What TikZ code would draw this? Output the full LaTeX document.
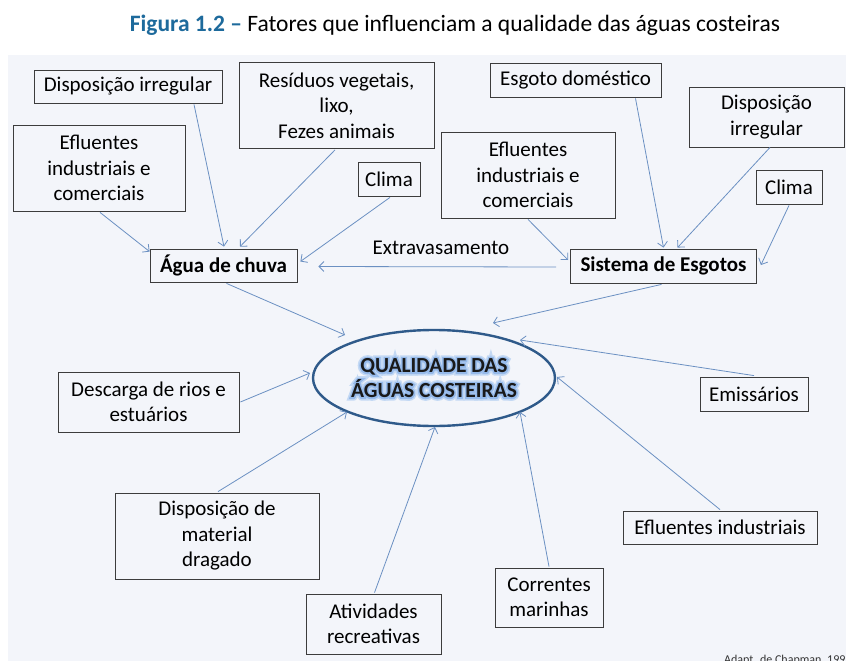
\documentclass[tikz,border=0pt]{standalone}
\usepackage{fontspec}
\setmainfont{Carlito}
\newfontfamily\glowwide{Carlito Bold}[FakeBold=30]
\newfontfamily\glownarrow{Carlito Bold}[FakeBold=15]
\usetikzlibrary{arrows.meta,calc,shapes.geometric}
\definecolor{bgpanel}{HTML}{F3F5FA}
\definecolor{arrowc}{HTML}{6B90C2}
\definecolor{boxline}{HTML}{3C3C3C}
\definecolor{ellc}{HTML}{2F5A8A}
\definecolor{titleblue}{HTML}{1D6A9C}
\definecolor{glowA}{HTML}{C4D9F4}
\definecolor{glowB}{HTML}{96BAEA}
\tikzset{
  x=1pt,y=-1pt,
  fbox/.style={draw=boxline,line width=0.8pt,fill=bgpanel,inner sep=0pt,align=center,
    font=\fontsize{21}{25.5}\selectfont,text=black},
  bbox/.style={fbox,font=\fontsize{21}{25.5}\selectfont\bfseries},
  arr/.style={draw=arrowc,line width=0.8pt,-{Straight Barb[length=5pt,width=10pt]}},
  qtext/.style={align=center,inner sep=0pt,font=\fontsize{21.5}{25}\selectfont},
}
\begin{document}
\begin{tikzpicture}
\useasboundingbox (0,0) rectangle (846,661);
\fill[white] (0,0) rectangle (846,661);
\fill[bgpanel] (8,55) rectangle (846,661);
% title
\node[anchor=center,font=\fontsize{23.5}{26}\selectfont] (title) at (455,25)
  {\textcolor{titleblue}{\bfseries Figura 1.2 –} Fatores que influenciam a qualidade das águas costeiras};
% top-left group
\node[fbox,minimum width=188,minimum height=33] (dispL) at (128,86.5) {Disposição irregular};
\node[fbox,minimum width=195,minimum height=86] (resid) at (336.5,105.5) {Resíduos vegetais,\\lixo,\\Fezes animais};
\node[fbox,minimum width=172,minimum height=86] (effL) at (99,168) {Efluentes\\industriais e\\comerciais};
\node[fbox,minimum width=62,minimum height=34] (climaL) at (389,179) {Clima};
\node[bbox,minimum width=147,minimum height=33] (agua) at (223.5,265.5) {Água de chuva};
% top-right group
\node[fbox,minimum width=171,minimum height=34] (esgoto) at (575.5,80) {Esgoto doméstico};
\node[fbox,minimum width=155,minimum height=60] (dispR) at (766.5,117) {Disposição\\irregular};
\node[fbox,minimum width=174,minimum height=86] (effR) at (528,175) {Efluentes\\industriais e\\comerciais};
\node[fbox,minimum width=66,minimum height=34] (climaR) at (789,187) {Clima};
\node[bbox,minimum width=186,minimum height=34] (sist) at (663.5,266) {Sistema de Esgotos};
\node[font=\fontsize{21}{24}\selectfont,inner sep=0pt] (extra) at (441,248) {Extravasamento};
% center ellipse
\node[ellipse,draw=ellc,line width=2.4pt,fill=bgpanel,minimum width=242,minimum height=96,inner sep=0pt] (qual) at (434,378) {};
\node[qtext,text=glowA] (glowouter) at (qual.center) {\glowwide QUALIDADE DAS\\\glowwide ÁGUAS COSTEIRAS};
\node[qtext,text=glowB] (glowinner) at (qual.center) {\glownarrow QUALIDADE DAS\\\glownarrow ÁGUAS COSTEIRAS};
\node[qtext,text=black!90] (qualtext) at (qual.center) {\bfseries QUALIDADE DAS\\\bfseries ÁGUAS COSTEIRAS};
% bottom group
\node[fbox,minimum width=181,minimum height=60] (desc) at (148.5,402) {Descarga de rios e\\estuários};
\node[fbox,minimum width=108,minimum height=34] (emis) at (754,394) {Emissários};
\node[fbox,minimum width=204,minimum height=86] (drag) at (217,536) {Disposição de\\material\\dragado};
\node[fbox,minimum width=194,minimum height=33] (effI) at (720,527.5) {Efluentes industriais};
\node[fbox,minimum width=108,minimum height=59] (corr) at (549,597.5) {Correntes\\marinhas};
\node[fbox,minimum width=135,minimum height=60] (ativ) at (373.5,624) {Atividades\\recreativas};
% caption
\node[anchor=base west,inner sep=0pt,font=\fontsize{12}{14}\selectfont,text=black!80] (src) at (724,663) {Adapt. de Chapman, 1992};
% arrows to Agua de chuva
\draw[arr] ($(dispL.south)+(66,1)$) -- ($(agua.north)+(0.5,-2)$);
\draw[arr] ($(resid.south)+(-1.5,1)$) -- ($(agua.north)+(16.5,-2)$);
\draw[arr] ($(effL.south)+(1,1)$) -- ($(agua.north west)+(0,3)$);
\draw[arr] ($(climaL.south)+(1,1)$) -- ($(agua.east)+(3,-4)$);
% arrows to Sistema
\draw[arr] ($(esgoto.south)+(60,1)$) -- ($(sist.north)+(0,-1)$);
\draw[arr] ($(dispR.south)+(3.5,0)$) -- ($(sist.north)+(14,-1)$);
\draw[arr] ($(effR.south)+(0,1)$) -- ($(sist.west)+(-2,-6)$);
\draw[arr] ($(climaR.south)+(0,1)$) -- ($(sist.east)+(4,-1)$);
\draw[arr] ($(sist.west)+(-14,1)$) -- ($(agua.east)+(21,1)$);
% arrows to qualidade
\draw[arr] ($(agua.south)+(3,1)$) -- ($(qual.center)+(-89,-43)$);
\draw[arr] ($(sist.south)+(-2,1)$) -- ($(qual.center)+(59,-55)$);
\draw[arr] ($(desc.east)+(1,0)$) -- ($(qual.center)+(-124,-5)$);
\draw[arr] ($(emis.north)+(0,-1)$) -- ($(qual.center)+(86,-38)$);
\draw[arr] ($(drag.north)+(1,-1)$) -- ($(qual.center)+(-87,34)$);
\draw[arr] ($(effI.north)+(0,-1)$) -- ($(qual.center)+(123,-1)$);
\draw[arr] ($(corr.north)+(0,-1)$) -- ($(qual.center)+(86,34)$);
\draw[arr] ($(ativ.north)+(1,-1)$) -- ($(qual.center)+(1,49)$);
\end{tikzpicture}
\end{document}
